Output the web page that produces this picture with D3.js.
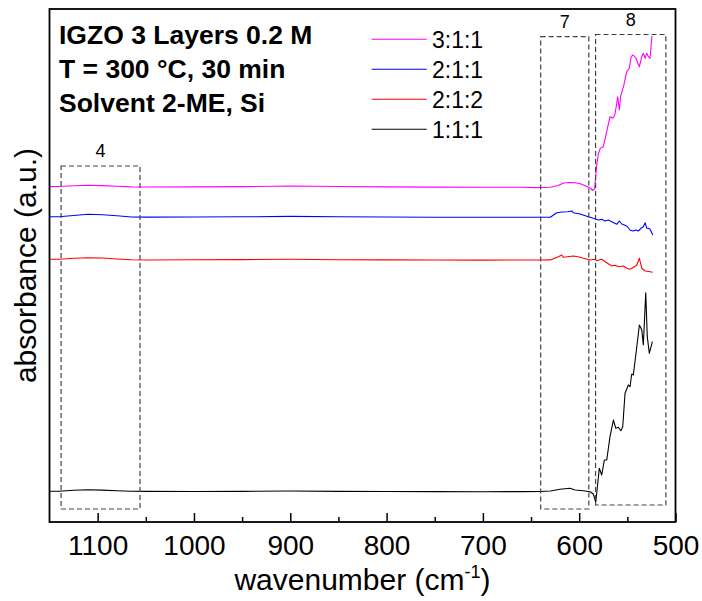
<!DOCTYPE html>
<html>
<head>
<meta charset="utf-8">
<script src="https://cdn.jsdelivr.net/npm/d3@7"></script>
<style>
  body { margin: 0; background: #fff; }
  svg { display: block; font-family: "Liberation Sans", Arial, sans-serif; }
</style>
</head>
<body>
<svg id="chart" width="702" height="601"></svg>
<script>
// FTIR absorbance spectra, IGZO films with different In:Ga:Zn ratios
const seriesNames = ["3:1:1", "2:1:1", "2:1:2", "1:1:1"];
const seriesColors = ["#ff00ff", "#0000ff", "#ff0000", "#000000"];

// [wavenumber (cm-1), absorbance (a.u., offset for stacking)]
const spectrum311 = [
  [1150,3.354],[1140,3.355],[1125,3.362],[1110,3.368],[1095,3.364],[1080,3.357],[1065,3.351],
  [1050,3.350],[1000,3.351],[950,3.354],[900,3.360],[850,3.355],[800,3.351],[750,3.349],
  [700,3.347],[660,3.347],[645,3.344],[630,3.347],[622,3.365],[616,3.390],[610,3.395],
  [604,3.393],[598,3.380],[592,3.355],[588,3.335],[586,3.315],[584,3.330],[582,3.553],
  [580,3.687],[578,3.737],[575,3.753],[573,3.837],[568,4.053],[565,4.037],[563,4.070],
  [561,4.187],[560,4.253],[558.3,4.120],[557,4.260],[554,4.353],[550.6,4.503],[548,4.537],
  [546,4.653],[544,4.670],[541,4.637],[537.5,4.553],[535,4.653],[533.4,4.687],[531.5,4.637],
  [530,4.687],[528,4.653],[526.4,4.637],[524.5,4.860]
];
const spectrum211 = [
  [1150,3.053],[1140,3.053],[1125,3.065],[1110,3.077],[1095,3.072],[1080,3.062],[1065,3.050],
  [1050,3.049],[1000,3.050],[950,3.052],[900,3.056],[850,3.052],[800,3.050],[750,3.048],
  [700,3.047],[660,3.048],[640,3.047],[630,3.048],[623.3,3.093],[618.1,3.100],[612,3.103],
  [607.8,3.110],[606.1,3.093],[599.1,3.080],[590.5,3.053],[585.3,3.037],[580.1,3.020],
  [576.6,3.027],[573.2,3.010],[569.7,3.020],[566.2,3.003],[561,2.977],[558.3,3.010],
  [555.8,2.980],[550.6,2.960],[547.2,2.920],[544.4,2.910],[541,2.920],[538.6,2.910],
  [535.8,2.937],[533.4,2.953],[531.5,2.993],[529.9,2.937],[528.2,2.937],[526.4,2.927],[523.6,2.870]
];
const spectrum212 = [
  [1150,2.627],[1140,2.628],[1125,2.637],[1110,2.642],[1095,2.640],[1080,2.630],[1065,2.622],
  [1050,2.620],[1000,2.622],[950,2.624],[900,2.627],[850,2.623],[800,2.621],[750,2.620],
  [700,2.619],[660,2.620],[640,2.620],[630,2.621],[621.7,2.653],[618.1,2.670],[616.5,2.647],
  [610,2.655],[606.1,2.660],[600,2.650],[595.7,2.637],[588.7,2.620],[583.5,2.627],[581.8,2.613],
  [576.6,2.627],[571.4,2.593],[566.2,2.560],[562.8,2.567],[559.3,2.553],[554.1,2.560],
  [550.6,2.537],[547.2,2.527],[542.7,2.553],[540.2,2.570],[537.5,2.637],[535,2.537],
  [531.5,2.510],[526.4,2.503],[523.6,2.497]
];
const spectrum111 = [
  [1150,0.307],[1140,0.308],[1125,0.318],[1110,0.323],[1095,0.319],[1080,0.312],[1065,0.307],
  [1050,0.306],[1000,0.305],[950,0.306],[900,0.310],[850,0.306],[800,0.305],[750,0.304],
  [700,0.303],[660,0.304],[640,0.305],[630,0.310],[619.9,0.327],[609.5,0.337],[604.3,0.320],
  [595.7,0.313],[588.7,0.303],[585.3,0.280],[582.8,0.197],[581.1,0.353],[579.1,0.537],
  [576.6,0.470],[573.9,0.620],[571.4,0.620],[568,0.853],[564.5,1.020],[562,0.937],[559.3,0.947],
  [556.8,0.913],[554.8,0.953],[552.4,1.287],[549,1.370],[547.2,1.353],[545.5,1.480],
  [543.8,1.470],[541,1.687],[537.5,1.970],[535,1.920],[533.4,1.770],[530.9,2.293],
  [529.3,1.853],[527.2,1.687],[524,1.803]
];
const spectra = [spectrum311, spectrum211, spectrum212, spectrum111];

// Axis ticks
const xMajorTicks = [1100, 1000, 900, 800, 700, 600, 500];
const xMinorTicks = [1050, 950, 850, 750, 650, 550];

// Marked absorption bands (dashed boxes)
const bandLabels = ["4", "7", "8"];
const bandFrom = [1138, 640, 583];
const bandTo = [1056, 590, 510];
const bandTop = [3.56, 4.853, 4.875];
const bandBottom = [0.13, 0.13, 0.17];

// Sample description
const infoLines = ["IGZO 3 Layers 0.2 M", "T = 300 \u00B0C, 30 min", "Solvent 2-ME, Si"];

const svg = d3.select("#chart");
const plotLeft = 49.5, plotRight = 675.5, plotTop = 9, plotBottom = 522;

const x = d3.scaleLinear().domain([1150, 500]).range([plotLeft, plotRight]);
const y = d3.scaleLinear().domain([0, 5.13]).range([plotBottom, plotTop]);

// Spectra
const line = d3.line().x(d => x(d[0])).y(d => y(d[1]));
svg.append("g").selectAll("path")
  .data(spectra)
  .join("path")
  .attr("d", line)
  .attr("fill", "none")
  .attr("stroke", (d, i) => seriesColors[i])
  .attr("stroke-width", 1.1)
  .attr("stroke-linejoin", "round");

// Dashed band boxes
const bands = svg.append("g");
bandLabels.forEach((lab, i) => {
  const x0 = x(bandFrom[i]), x1 = x(bandTo[i]);
  const y0 = y(bandTop[i]), y1 = y(bandBottom[i]);
  bands.append("rect")
    .attr("x", x0).attr("y", y0)
    .attr("width", x1 - x0).attr("height", y1 - y0)
    .attr("fill", "none")
    .attr("stroke", "#444")
    .attr("stroke-width", 1.2)
    .attr("stroke-dasharray", "5,3");
  bands.append("text")
    .attr("x", (x0 + x1) / 2).attr("y", y0 - 9)
    .attr("text-anchor", "middle")
    .attr("font-size", 18)
    .text(lab);
});

// Bottom axis with inward ticks
const xAxis = d3.axisBottom(x)
  .tickValues(xMajorTicks)
  .tickFormat(d3.format("d"))
  .tickSizeInner(-9)
  .tickSizeOuter(0)
  .tickPadding(13);
const gx = svg.append("g").attr("transform", `translate(0,${plotBottom})`).call(xAxis);
gx.select(".domain").remove();
gx.selectAll(".tick line").attr("stroke", "#000").attr("stroke-width", 1.5);
gx.selectAll(".tick text").attr("font-size", 28).attr("fill", "#000")
  .attr("font-family", "'Liberation Sans', Arial, sans-serif");

const gMinor = svg.append("g").attr("transform", `translate(0,${plotBottom})`)
  .call(d3.axisBottom(x).tickValues(xMinorTicks).tickSizeInner(-5).tickSizeOuter(0).tickFormat(""));
gMinor.select(".domain").remove();
gMinor.selectAll(".tick line").attr("stroke", "#000").attr("stroke-width", 1.5);

// Frame
svg.append("rect")
  .attr("x", plotLeft).attr("y", plotTop)
  .attr("width", plotRight - plotLeft).attr("height", plotBottom - plotTop)
  .attr("fill", "none").attr("stroke", "#000").attr("stroke-width", 1.8);

// Axis titles
const xt = svg.append("text")
  .attr("x", (plotLeft + plotRight) / 2).attr("y", 590)
  .attr("text-anchor", "middle")
  .attr("font-size", 30);
xt.append("tspan").text("wavenumber (cm");
xt.append("tspan").attr("font-size", 18).attr("dy", -12).text("-1");
xt.append("tspan").attr("dy", 12).text(")");

svg.append("text")
  .attr("transform", `translate(36,${(plotTop + plotBottom) / 2}) rotate(-90)`)
  .attr("text-anchor", "middle")
  .attr("font-size", 30)
  .text("absorbance (a.u.)");

// Sample info
svg.append("g").selectAll("text")
  .data(infoLines)
  .join("text")
  .attr("x", 59)
  .attr("y", (d, i) => 43.5 + i * 34)
  .attr("font-size", 26.5)
  .attr("font-weight", "bold")
  .text(d => d);

// Legend
const legend = svg.append("g");
seriesNames.forEach((name, i) => {
  const ly = 39.3 + i * 30;
  legend.append("line")
    .attr("x1", 371.7).attr("x2", 426.7)
    .attr("y1", ly).attr("y2", ly)
    .attr("stroke", seriesColors[i])
    .attr("stroke-width", 1.1);
  legend.append("text")
    .attr("x", 432).attr("y", ly + 9)
    .attr("font-size", 23)
    .text(name);
});
</script>
</body>
</html>
